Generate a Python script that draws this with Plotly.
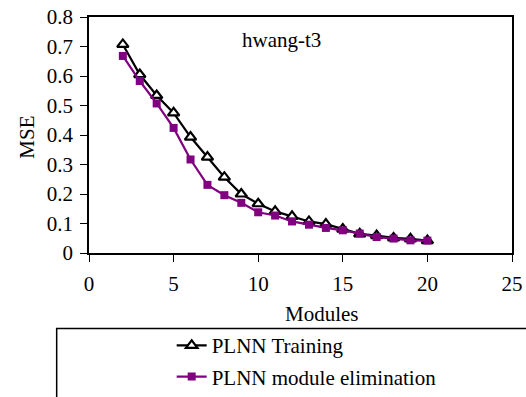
import plotly.graph_objects as go

modules = list(range(2, 21))
plnn_training = [0.707, 0.605, 0.534, 0.475, 0.393, 0.325, 0.257, 0.200, 0.167, 0.141,
                 0.124, 0.107, 0.098, 0.081, 0.065, 0.059, 0.051, 0.048, 0.042]
plnn_elim = [0.668, 0.583, 0.507, 0.424, 0.317, 0.231, 0.196, 0.170, 0.138, 0.127,
             0.107, 0.096, 0.085, 0.077, 0.066, 0.054, 0.049, 0.043, 0.042]
x_ticks = [0, 5, 10, 15, 20, 25]
y_ticks = [0, 0.1, 0.2, 0.3, 0.4, 0.5, 0.6, 0.7, 0.8]

FONT = "Liberation Serif, Times New Roman, serif"
PURPLE = "#800080"

fig = go.Figure()
fig.add_trace(go.Scatter(
    x=modules, y=plnn_training, mode="lines+markers", name="PLNN Training",
    legendgroup="a",
    line=dict(color="black", width=2.2),
    marker=dict(symbol="triangle-up", size=10, color="white",
                line=dict(color="black", width=2.2)),
))
fig.add_trace(go.Scatter(
    x=modules, y=plnn_elim, mode="lines+markers", name="PLNN module elimination",
    legendgroup="b",
    line=dict(color=PURPLE, width=2.2),
    marker=dict(symbol="square", size=8, color=PURPLE, line=dict(width=0)),
))

axis_common = dict(showgrid=False, zeroline=False, showline=True, linecolor="black",
                   linewidth=1.5, mirror=True, ticks="outside", tickcolor="black",
                   ticklen=7, tickwidth=1.2, automargin=False,
                   tickfont=dict(family=FONT, size=21, color="black"))

fig.update_xaxes(range=[0, 25], tickvals=x_ticks, ticklabelstandoff=4, **axis_common)
fig.update_yaxes(range=[0, 0.8], tickvals=y_ticks, ticktext=[f"{v:g}" for v in y_ticks],
                 ticklabelstandoff=3, **axis_common)

fig.add_annotation(text="hwang-t3", x=11.37, y=0.722, xref="x", yref="y",
                   xanchor="center", yanchor="middle",
                   showarrow=False, font=dict(family=FONT, size=21, color="black"))
fig.add_annotation(text="Modules", x=0.55, y=-0.257, xref="paper", yref="paper",
                   xanchor="center", yanchor="middle",
                   showarrow=False, font=dict(family=FONT, size=21, color="black"))
fig.add_annotation(text="MSE", x=-0.147, y=0.492, xref="paper", yref="paper",
                   xanchor="center", yanchor="middle",
                   textangle=-90, showarrow=False,
                   font=dict(family=FONT, size=21, color="black"))

# legend frame
fig.add_shape(type="rect", xref="paper", yref="paper",
              x0=-0.0764, y0=-0.75, x1=1.2, y1=-0.320,
              line=dict(color="black", width=1.5), fillcolor="rgba(0,0,0,0)")

fig.update_layout(
    width=526, height=397,
    margin=dict(l=89, r=14, t=17, b=144, autoexpand=False),
    paper_bgcolor="white", plot_bgcolor="white",
    showlegend=True,
    legend=dict(x=0.3264, y=0.181, xref="container", yref="container",
                xanchor="left", yanchor="top",
                font=dict(family=FONT, size=21, color="black"),
                bgcolor="rgba(0,0,0,0)", borderwidth=0,
                traceorder="grouped", tracegroupgap=1),
)

fig.write_html("out.html", config={"displayModeBar": False},
               post_script="document.body.style.margin='0';document.body.style.padding='0';")
